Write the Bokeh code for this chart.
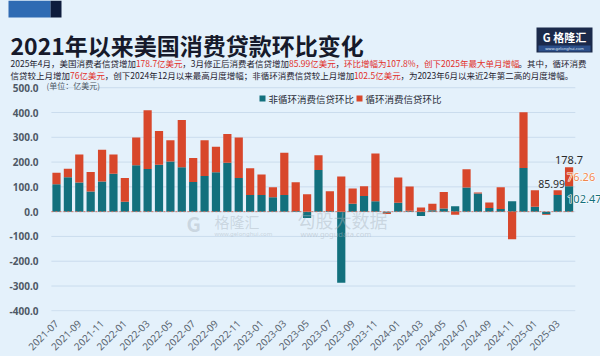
import math
from bokeh.plotting import figure
from bokeh.layouts import column
from bokeh.models import (Range1d, FixedTicker, PrintfTickFormatter, Label,
                          BoxAnnotation, ColumnDataSource)
from bokeh.embed import file_html
from bokeh.resources import INLINE

months = ["2021-07", "2021-08", "2021-09", "2021-10", "2021-11", "2021-12",
          "2022-01", "2022-02", "2022-03", "2022-04", "2022-05", "2022-06",
          "2022-07", "2022-08", "2022-09", "2022-10", "2022-11", "2022-12",
          "2023-01", "2023-02", "2023-03", "2023-04", "2023-05", "2023-06",
          "2023-07", "2023-08", "2023-09", "2023-10", "2023-11", "2023-12",
          "2024-01", "2024-02", "2024-03", "2024-04", "2024-05", "2024-06",
          "2024-07", "2024-08", "2024-09", "2024-10", "2024-11", "2024-12",
          "2025-01", "2025-02", "2025-03", "2025-04"]

nonrevolving = [111, 139, 118, 81, 122, 153,
                40, 187, 172, 189, 202, 179,
                120, 144, 159, 197, 136, 67,
                67, 58, 67, 3, -26, 168,
                3, -287, 32, 63, 42, -4,
                36, 4, -18, 6, 13, 22,
                97, 73, 15, 11, 42, 176,
                20, -10, 67.0, 102.47]

revolving = [46, 34, 113, 79, 128, 78,
             96, 112, 237, 136, 86, 191,
             96, 144, 103, 116, 163, 108,
             83, 40, 171, 116, 70, 60,
             79, 142, 61, 39, 193, -5,
             102, 97, 17, 26, 66, -12,
             74, 4, 22, 87, -111, 225,
             66, -3, 18.99, 76.26]

y_ticks = [-400, -300, -200, -100, 0, 100, 200, 300, 400, 500]
x_tick_idx = list(range(0, len(months), 2))

series_names = ["非循环消费信贷环比", "循环消费信贷环比"]
title_text = "2021年以来美国消费贷款环比变化"
unit_text = "(单位：亿美元)"
sub_line1 = [("2025年4月，美国消费者信贷增加", "k"), ("178.7亿美元", "r"),
             ("，3月修正后消费者信贷增加", "k"), ("85.99亿美元", "r"), ("，", "k"),
             ("环比增幅为107.8%，创下2025年最大单月增幅", "r"), ("。其中，循环消费", "k")]
sub_line2 = [("信贷较上月增加", "k"), ("76亿美元", "r"),
             ("，创下2024年12月以来最高月度增幅；非循环消费信贷较上月增加", "k"),
             ("102.5亿美元", "r"), ("，为2023年6月以来近2年第二高的月度增幅。", "k")]

TEAL = "#12707d"
RED = "#d8472b"
BG = "#e4f1fb"
FONT = "Noto Sans CJK SC"
LATIN = "Noto Sans"

W = 600
TOP_H = 81
MAIN_H = 356 - TOP_H

# ================= header figure (page px == data coords) =================
hdr = figure(width=W, height=TOP_H, x_range=Range1d(0, W), y_range=Range1d(TOP_H, 0),
             output_backend="svg", toolbar_location=None,
             x_axis_type=None, y_axis_type=None,
             min_border_left=0, min_border_right=0, min_border_top=0, min_border_bottom=0)
hdr.frame_align = False
hdr.background_fill_color = BG
hdr.border_fill_color = BG
hdr.outline_line_color = None
hdr.grid.visible = False

hdr.quad(left=[8, 50], right=[50, 61], top=[0, 0], bottom=[17, 17],
         fill_color=["#2f6bb3", "#0e1c3c"], line_color=None)
hdr.quad(left=[536], right=[592], top=[27], bottom=[52], fill_color="#1b2a4b", line_color=None)
hdr.quad(left=[538], right=[590], top=[45], bottom=[51], fill_color="#2c4f8a", line_color=None)


def hlab(px, py, text, size, color, style="normal", align="left", baseline="middle",
         font=FONT):
    hdr.add_layout(Label(x=px, y=py, text=text, text_font=font, text_font_size=f"{size}px",
                         text_color=color, text_font_style=style, text_align=align,
                         text_baseline=baseline))


hlab(10, 44, title_text, 23, "#161a2b", style="bold")
hlab(564, 36, "G 格隆汇", 11, "white", style="bold", align="center")
hlab(564, 48, "www.gelonghui.com", 4, "#dbe6f5", align="center", font=LATIN)


def em(ch):
    if ch.isdigit():
        return 0.55
    if ch == ".":
        return 0.27
    if ch == "%":
        return 0.86
    return 1.0


def sub_line(parts, py, size=8.5, x0=10):
    x = x0
    for txt, c in parts:
        hlab(x, py, txt, size, "#1f2230" if c == "k" else "#e2302a")
        x += sum(em(ch) for ch in txt) * size


sub_line(sub_line1, 62.5)
sub_line(sub_line2, 74.5)

# ================= main chart =================
idx = list(range(len(months)))
t_bot, t_top, r_bot, r_top = [], [], [], []
for a, b in zip(nonrevolving, revolving):
    t_bot.append(0)
    t_top.append(a)
    base = max(a, 0) if b >= 0 else min(a, 0)
    r_bot.append(base)
    r_top.append(base + b)

src = ColumnDataSource(dict(x=idx, tb=t_bot, tt=t_top, rb=r_bot, rt=r_top))

FL, FB_BORDER = 45, 42
FRAME_BOTTOM = MAIN_H - FB_BORDER
PX_PER_UNIT = 226.0 / 900.0
y_top = 500 + (87.3 - TOP_H) / PX_PER_UNIT
y_bot = -400 - (314 - 313.3) / PX_PER_UNIT
p = figure(width=W, height=MAIN_H, x_range=Range1d(-0.966, 47.76),
           y_range=Range1d(y_bot, y_top),
           output_backend="svg", toolbar_location=None,
           min_border_left=FL, min_border_right=0, min_border_top=0,
           min_border_bottom=FB_BORDER)
p.frame_align = False
p.background_fill_color = BG
p.border_fill_color = BG
p.outline_line_color = None
p.grid.visible = False

p.segment(x0=[-0.45] * len(y_ticks), x1=[45.55] * len(y_ticks), y0=y_ticks, y1=y_ticks,
          line_color="#cadced", line_width=1)

p.vbar(x="x", bottom="tb", top="tt", width=0.72, source=src, fill_color=TEAL, line_color=None)
p.vbar(x="x", bottom="rb", top="rt", width=0.72, source=src, fill_color=RED, line_color=None)

p.segment(x0=[-0.45], x1=[45.55], y0=[0], y1=[0], line_color="#e06a55",
          line_dash="2 2", line_width=1, line_alpha=0.85)

p.yaxis.ticker = FixedTicker(ticks=y_ticks)
p.yaxis.formatter = PrintfTickFormatter(format="%.1f")
p.yaxis.axis_line_color = None
p.yaxis.major_tick_line_color = None
p.yaxis.minor_tick_line_color = None
p.yaxis.major_label_text_font_size = "10px"
p.yaxis.major_label_text_font_style = "bold"
p.yaxis.major_label_text_color = "#4f5966"
p.yaxis.major_label_text_font = LATIN
p.yaxis.major_label_standoff = 1

p.xaxis.ticker = FixedTicker(ticks=x_tick_idx)
p.xaxis.major_label_overrides = {i: months[i] for i in x_tick_idx}
p.xaxis.major_label_orientation = math.pi / 4
p.xaxis.axis_line_color = None
p.xaxis.major_tick_line_color = None
p.xaxis.minor_tick_line_color = None
p.xaxis.major_label_text_font_size = "10px"
p.xaxis.major_label_text_color = "#5a6571"
p.xaxis.major_label_text_font = LATIN
p.xaxis.major_label_standoff = 4


def lab(px, py, text, size, color, style="normal", align="left", baseline="middle",
        font=FONT, alpha=1.0):
    p.add_layout(Label(x=px - FL, y=FRAME_BOTTOM - (py - TOP_H), x_units="screen",
                       y_units="screen", text=text, text_font=font,
                       text_font_size=f"{size}px", text_color=color, text_font_style=style,
                       text_align=align, text_baseline=baseline, text_alpha=alpha))


def box(x0, y0, x1, y1, color):
    p.add_layout(BoxAnnotation(left=x0 - FL, right=x1 - FL,
                               top=FRAME_BOTTOM - (y0 - TOP_H),
                               bottom=FRAME_BOTTOM - (y1 - TOP_H),
                               left_units="screen", right_units="screen",
                               top_units="screen", bottom_units="screen",
                               fill_color=color, fill_alpha=1.0, line_color=None))


lab(46, 88, unit_text, 8, "#4f5966")

box(259, 98, 265, 104, TEAL)
lab(268, 101, series_names[0], 9.5, "#2a2d38")
box(356, 98, 362, 104, RED)
lab(365, 101, series_names[1], 9.5, "#2a2d38")

lab(186, 226, "G", 20, "#aab5bf", style="bold", alpha=0.45)
lab(214, 224, "格隆汇", 15, "#aab5bf", alpha=0.45)
lab(214, 236, "www.gelonghui.com", 6, "#aab5bf", alpha=0.5, font=LATIN)
lab(297, 222, "勾股大数据", 18, "#aab5bf", alpha=0.45)
lab(300, 236, "www.gogudata.com", 7.5, "#aab5bf", alpha=0.5, font=LATIN)

n = len(months)
last = n - 1
p.add_layout(Label(x=last, y=r_top[last], text=f"{nonrevolving[last] + revolving[last]:.1f}",
                   text_font=LATIN, text_font_size="11px", text_color="#2b2b2b",
                   text_align="center", text_baseline="bottom", y_offset=3))
p.add_layout(Label(x=last - 1, y=r_top[last - 1],
                   text=f"{nonrevolving[last - 1] + revolving[last - 1]:.2f}",
                   text_font=LATIN, text_font_size="10.5px", text_color="#2b2b2b",
                   text_align="center", text_baseline="bottom", y_offset=2, x_offset=-6))
for val, ypos, col in [(revolving[last], r_bot[last] + revolving[last] / 2, "#f0874e"),
                       (nonrevolving[last], nonrevolving[last] / 2, "#12707d")]:
    p.add_layout(Label(x=last, y=ypos, text=f"{val:.2f}", text_font=LATIN,
                       text_font_size="11px", text_color="white",
                       text_outline_color="white",
                       text_align="left", text_baseline="middle", x_offset=-2))
    p.add_layout(Label(x=last, y=ypos, text=f"{val:.2f}", text_font=LATIN,
                       text_font_size="11px", text_color=col,
                       text_align="left", text_baseline="middle", x_offset=-2))

layout = column(hdr, p, spacing=0)
layout.styles = {"background-color": BG}
open("out.html", "w").write(file_html(layout, INLINE))
